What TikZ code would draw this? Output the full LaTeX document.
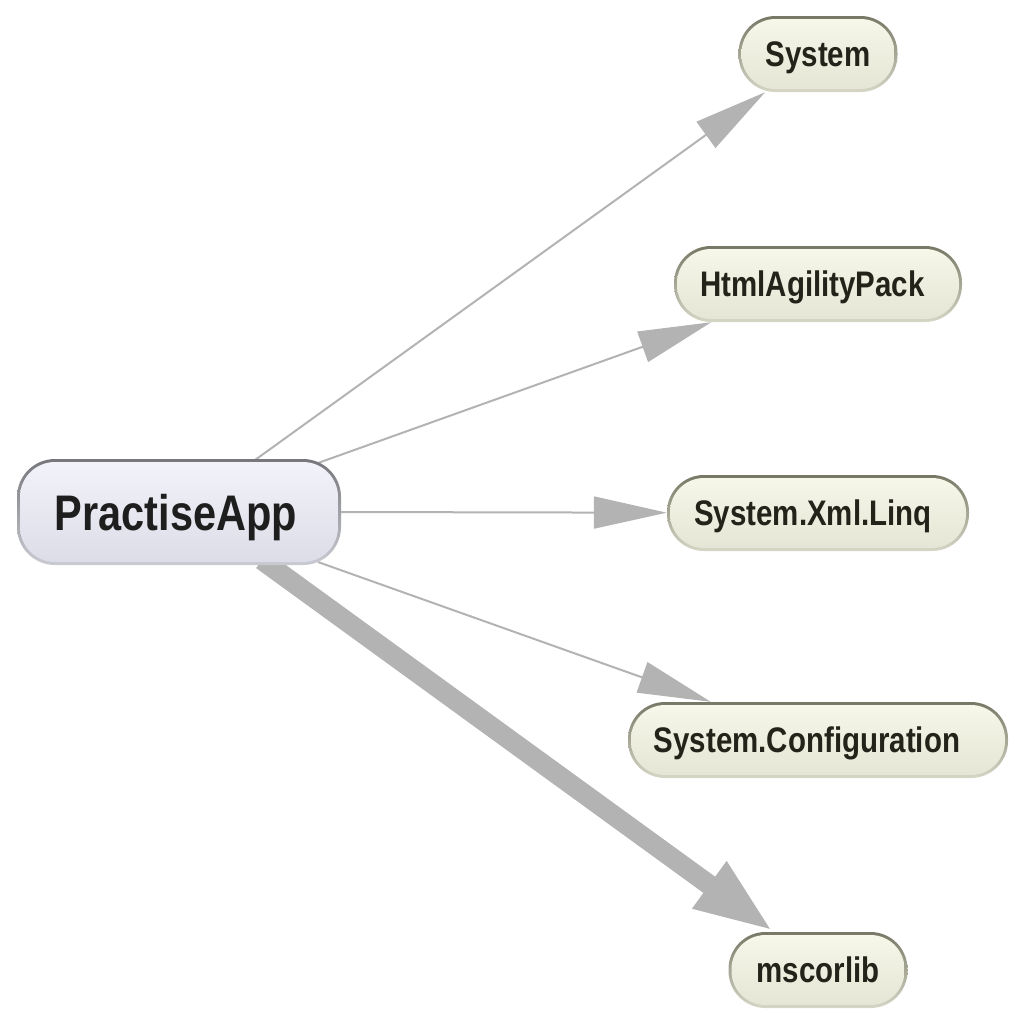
\documentclass[tikz,border=0pt]{standalone}
\usepackage{fontspec}
\newfontfamily\lblfont[FakeStretch=0.83]{Liberation Sans}
\usetikzlibrary{arrows.meta,backgrounds}
\definecolor{edgegray}{HTML}{B3B3B3}
\definecolor{txt}{HTML}{1E1E1E}
\definecolor{deptxt}{HTML}{23231A}
\definecolor{appFillTop}{HTML}{F3F3FA}
\definecolor{appFillBot}{HTML}{DCDCE8}
\definecolor{appBordTop}{HTML}{76767C}
\definecolor{appBordBot}{HTML}{CACAD2}
\definecolor{depFillTop}{HTML}{F7F7EA}
\definecolor{depFillBot}{HTML}{E5E5D5}
\definecolor{depBordTop}{HTML}{787866}
\definecolor{depBordBot}{HTML}{D6D6C6}
\tikzset{
  boxbase/.style={inner sep=0pt, text depth=0pt},
  appbox/.style={boxbase, text=txt, text height=36pt, rounded corners=38pt, minimum width=324pt, minimum height=106pt,
    top color=appBordTop, bottom color=appBordBot,
    font=\lblfont\bfseries\fontsize{50pt}{56pt}\selectfont,
    path picture={\shade[top color=appFillTop, bottom color=appFillBot, rounded corners=35pt]
      ([shift={(3pt,3pt)}]path picture bounding box.south west) rectangle
      ([shift={(-3pt,-3pt)}]path picture bounding box.north east);}},
  depbox/.style={boxbase, text=deptxt, text height=25.5pt, rounded corners=37pt, minimum height=76pt,
    top color=depBordTop, bottom color=depBordBot,
    font=\lblfont\bfseries\fontsize{35.5pt}{40pt}\selectfont,
    path picture={\shade[top color=depFillTop, bottom color=depFillBot, rounded corners=34pt]
      ([shift={(3pt,3pt)}]path picture bounding box.south west) rectangle
      ([shift={(-3pt,-3pt)}]path picture bounding box.north east);}},
  dep/.style={draw=edgegray, line width=2pt, -{Triangle[length=73pt, width=32pt]}, color=edgegray},
  heavydep/.style={draw=edgegray, line width=20pt, -{Triangle[length=80pt, width=52pt]}, color=edgegray}
}
\begin{document}
\begin{tikzpicture}[x=1pt, y=-1pt]
\useasboundingbox (0,0) rectangle (1024,1023);
\node[appbox] (app) at (179,512) {PractiseApp\kern6pt\relax};
\node[depbox, minimum width=159pt] (sys) at (818,54) {System};
\node[depbox, minimum width=288pt] (hap) at (818,284) {HtmlAgilityPack\kern11pt\relax};
\node[depbox, minimum width=302pt] (xml) at (818,513) {System.Xml.Linq\kern10pt\relax};
\node[depbox, minimum width=380pt] (cfg) at (818,740) {System.Configuration\kern22pt\relax};
\node[depbox, minimum width=179pt] (msc) at (818,970) {mscorlib};
\coordinate (s1) at (255,460);
\coordinate (s2) at (318,463);
\coordinate (s3) at (339,512);
\coordinate (s4) at (318,562);
\coordinate (s5) at (262,560);
\begin{scope}[on background layer]
\draw[dep] (s1) -- (sys);
\draw[dep] (s2) -- (hap);
\draw[dep] (s3) -- (xml);
\draw[dep] (s4) -- (cfg);
\draw[heavydep] (s5) -- ([xshift=-44pt]msc.north);
\end{scope}
\end{tikzpicture}
\end{document}
